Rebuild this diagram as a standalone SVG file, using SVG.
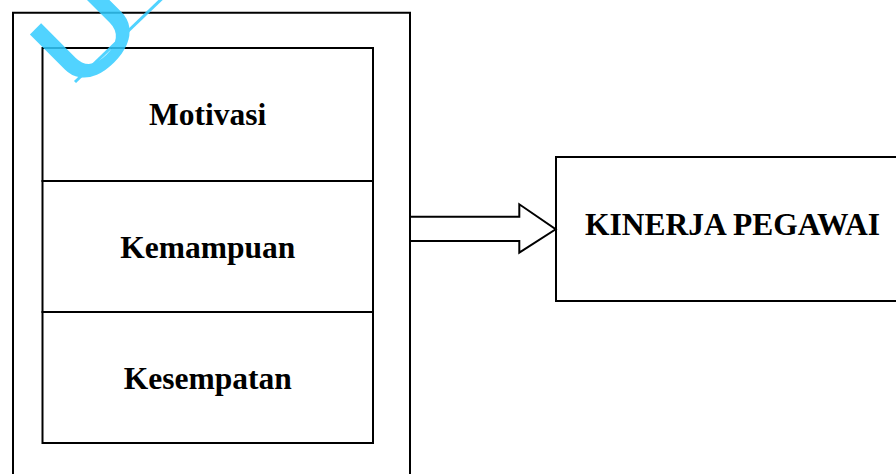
<svg xmlns="http://www.w3.org/2000/svg" width="896" height="474" viewBox="0 0 896 474">
<style>
.box{fill:none;stroke:#000;stroke-width:2}
.lbl{font-family:"Liberation Serif","Times New Roman",serif;font-weight:bold;font-size:31.5px;fill:#000;text-anchor:middle}
.wm{font-family:"Liberation Sans",Arial,sans-serif;font-size:110px;fill:#33CCFF;stroke:#33CCFF;stroke-width:2.5}
</style>
<rect width="896" height="474" fill="#fff"/>
<g id="outer">
<path class="box" d="M13,480 V12.7 H410 V480"/>
</g>
<g id="motivasi">
<rect class="box" x="42.5" y="48" width="330.5" height="133"/>
<text class="lbl" x="207.7" y="125">Motivasi</text>
</g>
<g id="kemampuan">
<rect class="box" x="42.5" y="181" width="330.5" height="131"/>
<text class="lbl" x="207.7" y="258">Kemampuan</text>
</g>
<g id="kesempatan">
<rect class="box" x="42.5" y="312" width="330.5" height="131"/>
<text class="lbl" x="207.7" y="389">Kesempatan</text>
</g>
<g id="kinerja">
<path class="box" d="M900,157 H556 V301 H900"/>
<text class="lbl" x="732.5" y="235">KINERJA PEGAWAI</text>
</g>
<g id="connectors">
<path class="box" d="M410,216.7 H519.3 V204.3 L555.7,229.3 L519.3,252.7 V241 H410"/>
</g>
<g id="watermark" opacity="0.85">
<text class="wm" transform="translate(78,95.3) rotate(-45) scale(1.24,1)" x="0" y="0">U</text>
<line x1="75" y1="82" x2="172" y2="-11" stroke="#33CCFF" stroke-width="3"/>
</g>
</svg>
